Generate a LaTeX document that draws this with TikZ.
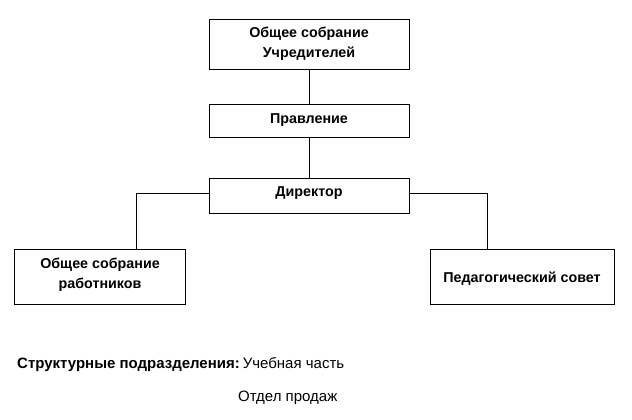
\documentclass[tikz,border=0pt]{standalone}
\usepackage{fontspec}
\setmainfont{Liberation Sans}
\begin{document}
\begin{tikzpicture}[x=1pt,y=-1pt,
  box/.style={draw,line width=0.9pt,inner sep=0pt},
  lbl/.style={font=\bfseries\fontsize{14.3}{20}\selectfont,align=center,inner sep=0pt},
  conn/.style={line width=0.9pt},
  plain/.style={anchor=base west,inner sep=0pt,font=\fontsize{15}{16}\selectfont}]
\useasboundingbox (0,0) rectangle (632,420);
% boxes
\node[box,minimum width=200pt,minimum height=50pt] (uch) at (309,44) {};
\node[box,minimum width=200pt,minimum height=33pt] (prav) at (309,120.5) {};
\node[box,minimum width=200pt,minimum height=35pt] (dir) at (309,195.5) {};
\node[box,minimum width=171pt,minimum height=55pt] (rab) at (99.5,276.5) {};
\node[box,minimum width=184pt,minimum height=55pt] (ped) at (522,276.5) {};
% labels
\node[lbl] (tuch) at (309,44) {Общее собрание\\Учредителей};
\node[lbl] (tprav) at (309,120) {Правление};
\node[lbl] (tdir) at (309,193.5) {Директор};
\node[lbl] (trab) at (100,275) {Общее собрание\\работников};
\node[lbl] (tped) at (522,279) {Педагогический совет};
% connectors
\draw[conn] (uch.south) -- (prav.north);
\draw[conn] (prav.south) -- (dir.north);
\coordinate (dl) at (209,193);
\coordinate (dr) at (409,193);
\draw[conn] (dl) -| (rab.north -| 136,0);
\draw[conn] (dr) -| (ped.north -| 487,0);
% bottom text
\node[plain] (sp) at (17,368.5) {\textbf{Структурные подразделения:}\hspace{3pt}Учебная часть};
\node[plain] (op) at (238,401) {Отдел продаж};
\end{tikzpicture}
\end{document}
